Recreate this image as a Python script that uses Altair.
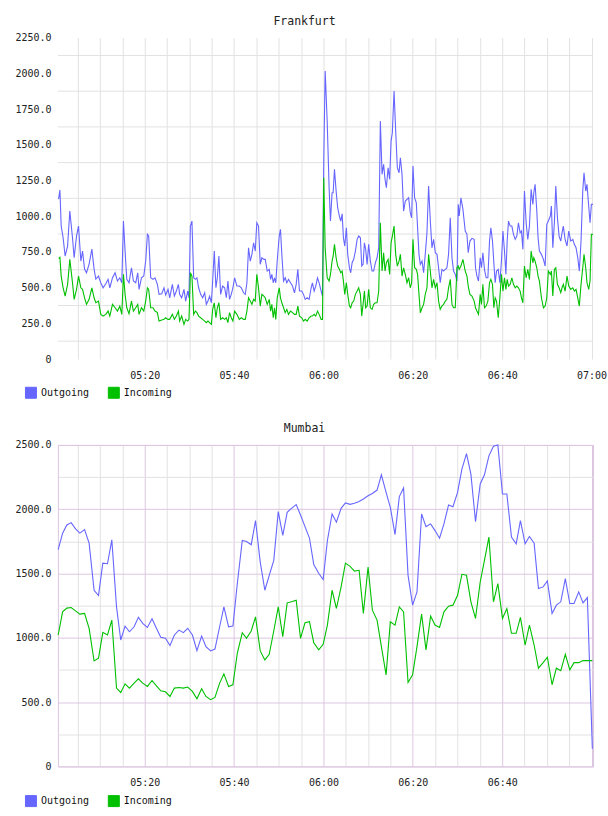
import altair as alt
import pandas as pd

# ---------------- Frankfurt (minutes after 05:00, Outgoing, Incoming) ----------------
FRA_MIN = [
    0.72, 1.01, 1.30, 1.74, 2.19, 2.73, 3.24, 3.84, 4.20, 4.74,
    5.18, 5.70, 6.08, 6.53, 6.97, 7.55, 8.16, 8.67, 9.05, 9.65,
    10.17, 10.68, 11.28, 11.80, 12.18, 12.78, 13.36, 13.90, 14.41, 14.86,
    15.24, 15.60, 15.98, 16.49, 17.03, 17.47, 17.99, 18.44, 18.73, 19.26,
    19.78, 20.22, 20.60, 20.89, 21.34, 21.85, 22.30, 22.84, 23.20, 23.80,
    24.31, 24.69, 25.21, 25.59, 26.19, 26.64, 27.08, 27.53, 27.82, 28.27,
    28.78, 29.16, 29.61, 29.90, 30.21, 30.57, 30.95, 31.33, 31.69, 32.07,
    32.51, 32.96, 33.41, 33.79, 34.15, 34.52, 34.91, 35.20, 35.57, 35.93,
    36.25, 36.60, 36.98, 37.43, 37.88, 38.26, 38.61, 38.99, 39.37, 39.73,
    40.11, 40.63, 41.16, 41.61, 42.12, 42.50, 42.86, 43.24, 43.62, 43.98,
    44.36, 44.74, 45.09, 45.47, 45.85, 46.21, 46.66, 46.97, 47.42, 47.87,
    48.16, 48.45, 48.76, 49.05, 49.34, 49.65, 50.10, 50.39, 50.68, 51.06,
    51.44, 51.80, 52.18, 52.63, 53.07, 53.52, 53.90, 54.26, 54.64, 55.15,
    55.53, 55.91, 56.36, 56.80, 57.25, 57.54, 57.92, 58.28, 58.66, 59.04,
    59.49, 59.78, 60.07, 60.38, 60.83, 61.27, 61.56, 61.94, 62.17, 62.46,
    62.84, 63.19, 63.57, 63.87, 64.18, 64.47, 64.76, 65.14, 65.43, 65.81,
    66.10, 66.41, 66.77, 67.15, 67.53, 67.89, 68.27, 68.56, 68.87, 69.16,
    69.45, 69.77, 70.12, 70.50, 70.88, 71.24, 71.62, 72.00, 72.36, 72.74,
    73.12, 73.47, 73.79, 74.08, 74.46, 74.81, 75.13, 75.42, 75.80, 76.16,
    76.54, 76.92, 77.21, 77.59, 77.94, 78.32, 78.70, 79.06, 79.44, 79.73,
    80.04, 80.40, 80.78, 81.07, 81.38, 81.68, 82.06, 82.41, 82.79, 83.17,
    83.53, 83.91, 84.29, 84.65, 85.03, 85.41, 85.77, 86.14, 86.52, 86.88,
    87.26, 87.64, 88.00, 88.38, 88.76, 89.12, 89.50, 89.88, 90.17, 90.39,
    90.77, 91.22, 91.73, 92.11, 92.40, 92.78, 93.23, 93.74, 94.03, 94.35,
    94.70, 95.08, 95.37, 95.69, 96.04, 96.42, 96.80, 97.16, 97.47, 97.83,
    98.14, 98.43, 98.73, 99.11, 99.49, 99.84, 100.16, 100.51, 100.83, 101.12,
    101.41, 101.79, 102.17, 102.53, 102.91, 103.29, 103.64, 104.02, 104.31, 104.63,
    104.98, 105.36, 105.74, 106.10, 106.48, 106.86, 107.08, 107.37, 107.75, 108.04,
    108.33, 108.78, 109.23, 109.61, 109.99, 110.34, 110.79, 111.02, 111.33, 111.69,
    112.00, 112.36, 112.74, 113.12, 113.40, 113.69, 114.08, 114.52, 114.90, 115.35,
    115.80, 116.15, 116.53, 116.91, 117.27, 117.65, 118.03, 118.32, 118.70, 118.99,
    119.37, 119.66, 119.96, 120.30,
]
FRA_OUT = [
    1120, 1183, 931, 849, 721, 791, 1036, 849, 709, 861,
    931, 686, 756, 630, 604, 665, 770, 630, 560, 581,
    534, 499, 527, 558, 499, 569, 604, 546, 569, 534,
    966, 756, 558, 534, 639, 546, 534, 604, 488, 569,
    581, 686, 873, 861, 569, 558, 569, 523, 453, 457,
    499, 448, 488, 429, 523, 441, 476, 523, 453, 429,
    488, 406, 476, 429, 931, 966, 569, 558, 569, 499,
    453, 429, 464, 383, 406, 441, 394, 546, 756, 499,
    569, 721, 453, 511, 499, 429, 546, 418, 453, 499,
    569, 511, 511, 499, 464, 453, 534, 779, 686, 733,
    814, 756, 954, 931, 663, 709, 698, 698, 616, 628,
    558, 593, 534, 569, 534, 686, 861, 908, 733, 546,
    569, 534, 558, 534, 511, 464, 523, 628, 476, 476,
    453, 418, 429, 418, 499, 534, 476, 511, 569, 534,
    476, 441, 1386, 2016, 1666, 1199, 966, 1164, 1164, 1328,
    1176, 1059, 1001, 966, 1017, 849, 791, 919, 733, 639,
    604, 674, 698, 756, 838, 861, 849, 651, 663, 814,
    768, 663, 803, 686, 616, 616, 674, 709, 779, 1666,
    1293, 1363, 1258, 1199, 1339, 1258, 1526, 1584, 1876, 1596,
    1339, 1304, 1409, 1293, 1036, 1106, 1118, 1129, 1024, 989,
    1351, 1129, 1094, 919, 733, 663, 686, 604, 733, 884,
    1211, 966, 779, 838, 744, 733, 639, 534, 628, 616,
    628, 639, 733, 989, 709, 616, 593, 546, 1083, 1001,
    1129, 1048, 896, 873, 744, 826, 845, 838, 639, 581,
    546, 709, 639, 744, 628, 569, 569, 826, 919, 826,
    674, 534, 616, 628, 534, 686, 896, 756, 593, 826,
    966, 931, 931, 873, 838, 861, 954, 884, 896, 768,
    1176, 954, 838, 931, 1188, 1083, 1164, 1223, 1036, 849,
    756, 733, 698, 651, 943, 966, 1001, 1071, 779, 954,
    1211, 989, 861, 826, 884, 931, 838, 791, 896, 826,
    838, 803, 779, 709, 616, 826, 1176, 1304, 1176, 1223,
    1071, 954, 1083, 1083,
]
FRA_IN = [
    705, 712, 581, 499, 441, 523, 698, 534, 418, 488,
    581, 499, 488, 429, 383, 418, 499, 429, 394, 406,
    313, 301, 313, 336, 301, 383, 359, 336, 371, 313,
    593, 453, 359, 318, 406, 336, 359, 383, 313, 359,
    336, 406, 499, 488, 359, 359, 336, 325, 266, 273,
    278, 289, 278, 278, 313, 278, 301, 336, 266, 301,
    243, 278, 266, 278, 604, 581, 313, 336, 325, 301,
    289, 278, 266, 255, 266, 255, 243, 348, 394, 289,
    359, 394, 278, 289, 278, 289, 255, 325, 289, 266,
    336, 313, 278, 289, 278, 278, 336, 429, 406, 383,
    418, 406, 593, 499, 371, 453, 441, 429, 383, 418,
    336, 383, 289, 359, 278, 429, 499, 429, 394, 359,
    325, 348, 313, 336, 325, 313, 313, 371, 301, 289,
    266, 278, 266, 289, 301, 301, 313, 301, 336, 313,
    278, 278, 1269, 779, 569, 546, 593, 686, 721, 803,
    709, 651, 628, 604, 616, 546, 453, 534, 453, 371,
    359, 394, 406, 453, 476, 499, 453, 301, 383, 476,
    359, 371, 488, 359, 348, 383, 394, 394, 476, 954,
    616, 744, 616, 674, 698, 593, 814, 861, 931, 733,
    651, 686, 733, 581, 639, 593, 534, 569, 499, 534,
    838, 639, 628, 593, 453, 324, 359, 383, 453, 499,
    733, 616, 499, 558, 499, 534, 406, 348, 371, 383,
    406, 418, 499, 558, 383, 359, 359, 639, 651, 628,
    651, 698, 616, 581, 511, 453, 441, 406, 359, 336,
    313, 453, 383, 523, 359, 371, 406, 534, 558, 523,
    359, 429, 406, 289, 429, 593, 476, 569, 488, 558,
    511, 523, 569, 523, 499, 511, 499, 476, 429, 394,
    651, 569, 628, 558, 756, 674, 709, 686, 639, 581,
    546, 429, 359, 371, 429, 616, 593, 616, 441, 628,
    639, 523, 499, 465, 499, 523, 476, 581, 511, 488,
    499, 476, 488, 429, 371, 523, 639, 733, 639, 534,
    488, 546, 873, 873,
]

# ---------------- Mumbai (minutes after 05:00, Outgoing, Incoming) ----------------
BOM_MIN = [
    0.63, 1.61, 2.57, 3.53, 4.51, 5.47, 6.53, 7.55, 8.67, 9.65,
    10.61, 11.66, 12.63, 13.68, 14.64, 15.60, 16.58, 17.61, 18.59, 19.55,
    20.60, 21.63, 22.61, 23.58, 24.63, 25.65, 26.64, 27.66, 28.65, 29.61,
    30.66, 31.69, 32.74, 33.70, 34.75, 35.71, 36.76, 37.72, 38.77, 39.73,
    40.71, 41.83, 42.79, 43.84, 44.80, 45.85, 46.88, 47.86, 48.89, 49.88,
    50.90, 51.89, 52.85, 53.90, 54.86, 55.87, 56.87, 57.83, 58.93, 59.93,
    60.89, 61.94, 62.90, 63.95, 64.92, 65.97, 66.93, 67.98, 68.94, 69.99,
    70.95, 72.00, 72.96, 74.01, 74.97, 76.02, 76.98, 77.94, 78.93, 79.95,
    80.94, 81.97, 82.95, 83.98, 84.96, 85.99, 86.97, 88.00, 88.98, 90.01,
    90.99, 92.02, 93.00, 94.03, 95.08, 96.04, 97.03, 98.05, 99.04, 100.06,
    101.05, 102.08, 103.13, 104.09, 105.14, 106.10, 107.15, 108.11, 109.16, 110.12,
    111.17, 112.13, 113.12, 114.14, 115.13, 116.09, 117.14, 118.10, 119.06, 120.18,
]
BOM_OUT = [
    1685, 1814, 1878, 1896, 1847, 1814, 1842, 1736, 1370, 1329,
    1581, 1576, 1762, 1241, 983, 1091, 1047, 1086, 1159, 1112,
    1081, 1148, 1074, 1004, 996, 939, 1022, 1060, 1040, 1074,
    1022, 900, 1014, 931, 898, 913, 1086, 1241, 1086, 1091,
    1420, 1757, 1749, 1724, 1912, 1589, 1370, 1486, 1602, 1981,
    1796, 1976, 2007, 2036, 1955, 1865, 1776, 1570, 1502, 1453,
    1757, 1963, 1899, 2007, 2049, 2038, 2046, 2061, 2080, 2105,
    2123, 2149, 2268, 2131, 2015, 1803, 2098, 2165, 1486, 1254,
    1357, 1963, 1865, 1886, 1834, 1775, 1886, 2033, 2020, 2131,
    2312, 2433, 2273, 1904, 2196, 2268, 2415, 2490, 2500, 2118,
    2118, 1783, 1731, 1912, 1731, 1788, 1736, 1383, 1396, 1442,
    1190, 1254, 1280, 1460, 1267, 1267, 1357, 1272, 1313, 137,
]
BOM_IN = [
    1022, 1202, 1231, 1236, 1210, 1184, 1190, 1074, 820, 841,
    1043, 1022, 1138, 609, 575, 642, 609, 648, 681, 648,
    622, 668, 627, 588, 580, 544, 609, 614, 609, 617,
    583, 526, 604, 544, 519, 536, 648, 720, 622, 635,
    880, 1040, 996, 1053, 1163, 898, 828, 872, 1055, 1241,
    1009, 1272, 1280, 1293, 996, 1117, 1125, 962, 906, 950,
    1099, 1370, 1228, 1396, 1581, 1556, 1519, 1525, 1190, 1550,
    1215, 1138, 931, 712, 1125, 1099, 1241, 1202, 653, 712,
    931, 1184, 906, 1169, 1099, 1081, 1202, 1246, 1254, 1331,
    1494, 1486, 1280, 1151, 1434, 1602, 1783, 1280, 1422, 1151,
    1228, 1035, 1035, 1159, 944, 1099, 944, 764, 807, 849,
    635, 764, 745, 872, 751, 807, 807, 823, 823, 823,
]

SERIES = ["Outgoing", "Incoming"]
COLORS = ["#6666ff", "#00c000"]
FRA_Y_LABELS = list(range(0, 2251, 250))
FRA_Y_GRID = list(range(125, 2250, 250))
BOM_Y_VALUES = list(range(0, 2501, 250))
GRID_MINUTES = list(range(5, 121, 5))

MONO = "DejaVu Sans Mono"
GREY = "#e2e2e2"
PINK = "#dcc6e0"
BASE = pd.Timestamp("2024-01-01 05:00:00")


def long_frame(minutes, out_vals, in_vals):
    times = (BASE + pd.to_timedelta(minutes, unit="m")).round("s")
    parts = [
        pd.DataFrame({"time": times, "value": vals, "series": name})
        for name, vals in zip(SERIES, [out_vals, in_vals])
    ]
    return pd.concat(parts, ignore_index=True)


def dt(minutes_after_five, seconds=0):
    h = 5 + minutes_after_five // 60
    m = minutes_after_five % 60
    return alt.DateTime(year=2024, month=1, date=1, hours=h, minutes=m, seconds=seconds)


X_DOMAIN = [dt(0, 34), dt(120, 20)]
X_TICKS = [dt(m) for m in GRID_MINUTES]
color_scale = alt.Scale(domain=SERIES, range=COLORS)


def legend(y):
    return alt.Legend(
        title=None, orient="none", legendX=-33, legendY=y, direction="horizontal",
        symbolType="square", symbolSize=121, symbolStrokeColor="#888888",
        symbolStrokeWidth=1, symbolOpacity=1, labelFont=MONO, labelFontSize=10,
        labelColor="#111111", labelOffset=4, columnPadding=16,
    )


def title(text):
    return alt.TitleParams(
        text=text, font=MONO, fontSize=11.5, fontWeight="normal", color="#222222",
        anchor="middle", frame="group", dx=-21, offset=5,
    )


def x_axis(label_expr, grid_color):
    return alt.Axis(
        title=None, values=X_TICKS, labelExpr=label_expr,
        labelFlush=False, labelOverlap=False, domain=False, ticks=False,
        labelPadding=11, gridColor=grid_color,
    )


def panel(df, x_enc, y_enc, name, legend_y, extra_layers):
    keys = alt.Chart(df).mark_square(opacity=0, size=1).encode(
        x=x_enc, y=y_enc,
        color=alt.Color("series:N", scale=color_scale, legend=legend(legend_y)),
    )
    lines = alt.Chart(df).mark_line(strokeWidth=1.1).encode(
        x=x_enc, y=y_enc,
        color=alt.Color("series:N", scale=color_scale, legend=None),
    )
    return alt.layer(keys, *extra_layers, lines).properties(
        width=536, height=322, title=title(name)
    )


LABEL_20 = "minutes(datum.value) % 20 == 0 ? timeFormat(datum.value, '%H:%M') : ''"

# ---------- Frankfurt ----------
fra_df = long_frame(FRA_MIN, FRA_OUT, FRA_IN)
fra_x = alt.X("time:T", scale=alt.Scale(domain=X_DOMAIN, nice=False),
              axis=x_axis(LABEL_20, GREY))
fra_y = alt.Y(
    "value:Q", scale=alt.Scale(domain=[0, 2250], nice=False),
    axis=alt.Axis(
        title=None, values=FRA_Y_LABELS, grid=False,
        labelExpr="datum.value == 0 ? '0' : format(datum.value, '.1f')",
        labelOverlap=False, domain=False, ticks=False, labelPadding=7,
    ),
)
# Frankfurt's horizontal grid sits half-way between its labels
fra_grid = alt.Chart(pd.DataFrame({"value": FRA_Y_GRID})).mark_rule(
    color=GREY, strokeWidth=1
).encode(y=fra_y)
fra = panel(fra_df, fra_x, fra_y, "Frankfurt", 349.5, [fra_grid])

# ---------- Mumbai ----------
bom_df = long_frame(BOM_MIN, BOM_OUT, BOM_IN)
bom_x = alt.X(
    "time:T", scale=alt.Scale(domain=X_DOMAIN, nice=False),
    axis=x_axis(
        "minutes(datum.value) % 20 == 0 && hours(datum.value) < 7 ? timeFormat(datum.value, '%H:%M') : ''",
        {"condition": {"test": "minutes(datum.value) % 20 == 0", "value": PINK}, "value": GREY},
    ),
)
bom_y = alt.Y(
    "value:Q", scale=alt.Scale(domain=[0, 2500], nice=False),
    axis=alt.Axis(
        title=None, values=BOM_Y_VALUES,
        labelExpr="datum.value % 500 != 0 ? '' : (datum.value == 0 ? '0' : format(datum.value, '.1f'))",
        labelOverlap=False, domain=False, ticks=False, labelPadding=7,
        gridColor={"condition": {"test": "datum.value % 500 == 0", "value": PINK}, "value": GREY},
    ),
)
bom = panel(bom_df, bom_x, bom_y, "Mumbai", 350.5, []).properties(
    view=alt.ViewBackground(stroke=PINK, strokeWidth=1)
)

chart = (
    alt.vconcat(fra, bom, spacing=22)
    .resolve_scale(color="independent")
    .resolve_legend(color="independent")
    .properties(padding={"left": 14, "top": 15, "right": 0, "bottom": 0}, background="white")
    .configure_view(stroke="transparent")
    .configure_axis(labelFont=MONO, labelFontSize=10, labelColor="#222222")
)

chart.save("out.html", embed_options={"renderer": "svg", "actions": False})
